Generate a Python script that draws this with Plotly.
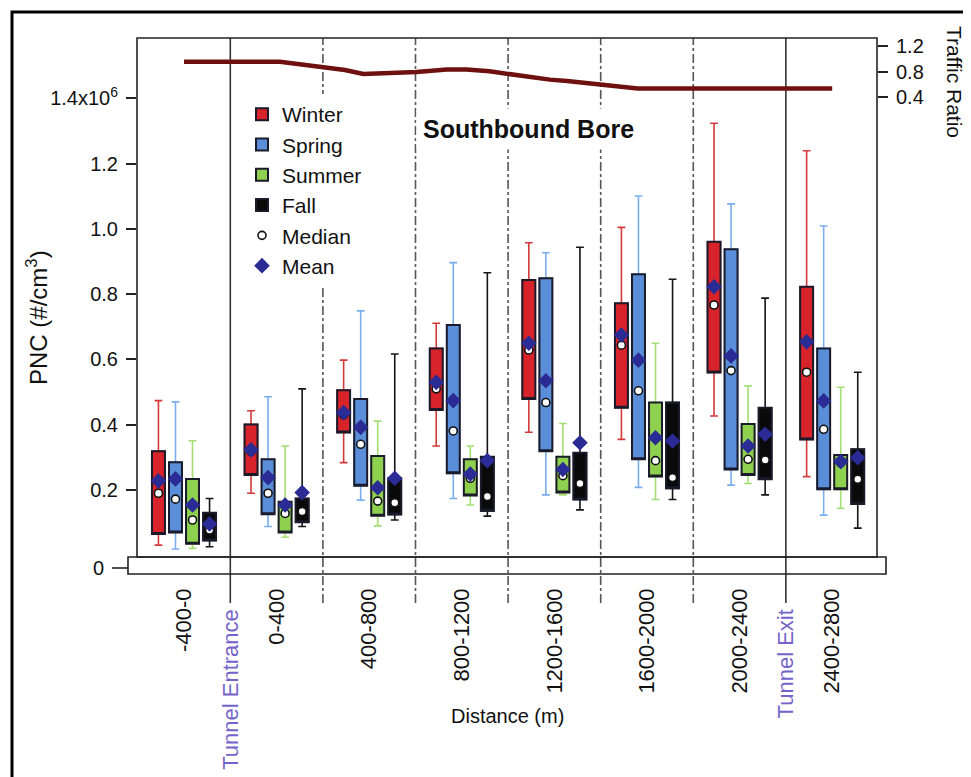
import plotly.graph_objects as go

# ---------------- data (PNC in 10^6 #/cm^3) ----------------
categories = ["-400-0", "0-400", "400-800", "800-1200", "1200-1600", "1600-2000", "2000-2400", "2400-2800"]
seasons = ["Winter", "Spring", "Summer", "Fall"]

winter_low  = [0.031, 0.190, 0.284, 0.335, 0.377, 0.355, 0.427, 0.241]
winter_q1   = [0.065, 0.246, 0.376, 0.445, 0.479, 0.452, 0.560, 0.355]
winter_med  = [0.190, 0.318, 0.430, 0.510, 0.629, 0.644, 0.767, 0.561]
winter_q3   = [0.319, 0.401, 0.506, 0.634, 0.844, 0.772, 0.961, 0.823]
winter_high = [0.474, 0.443, 0.598, 0.711, 0.958, 1.005, 1.324, 1.240]
winter_mean = [0.228, 0.323, 0.437, 0.530, 0.650, 0.675, 0.823, 0.654]

spring_low  = [0.019, 0.088, 0.169, 0.174, 0.185, 0.208, 0.215, 0.123]
spring_q1   = [0.070, 0.126, 0.213, 0.251, 0.319, 0.294, 0.263, 0.202]
spring_med  = [0.172, 0.190, 0.340, 0.381, 0.468, 0.504, 0.566, 0.386]
spring_q3   = [0.285, 0.294, 0.479, 0.706, 0.849, 0.861, 0.938, 0.634]
spring_high = [0.470, 0.486, 0.749, 0.897, 0.927, 1.101, 1.077, 1.009]
spring_mean = [0.234, 0.238, 0.392, 0.474, 0.535, 0.598, 0.611, 0.473]

summer_low  = [0.021, 0.055, 0.090, 0.154, 0.185, 0.171, 0.220, 0.144]
summer_q1   = [0.035, 0.070, 0.121, 0.183, 0.192, 0.241, 0.246, 0.202]
summer_med  = [0.108, 0.128, 0.166, 0.236, 0.244, 0.290, 0.294, 0.283]
summer_q3   = [0.234, 0.164, 0.304, 0.294, 0.302, 0.468, 0.402, 0.307]
summer_high = [0.351, 0.335, 0.411, 0.335, 0.404, 0.650, 0.519, 0.515]
summer_mean = [0.154, 0.154, 0.207, 0.249, 0.263, 0.360, 0.335, 0.287]

fall_low  = [0.026, 0.088, 0.108, 0.120, 0.139, 0.171, 0.185, 0.083]
fall_q1   = [0.045, 0.101, 0.125, 0.136, 0.171, 0.205, 0.233, 0.157]
fall_med  = [0.077, 0.134, 0.161, 0.180, 0.220, 0.238, 0.292, 0.233]
fall_q3   = [0.130, 0.174, 0.236, 0.302, 0.314, 0.468, 0.452, 0.325]
fall_high = [0.174, 0.510, 0.617, 0.866, 0.944, 0.846, 0.788, 0.561]
fall_mean = [0.096, 0.192, 0.236, 0.290, 0.345, 0.350, 0.371, 0.299]

# traffic ratio along the bore (distance in m)
traffic_dist  = [-200, 215, 300, 400, 495, 575, 660, 805, 935, 1020, 1120, 1195, 1295, 1380, 1455, 1600, 1685, 1760, 2600]
traffic_ratio = [0.96, 0.96, 0.92, 0.87, 0.83, 0.77, 0.78, 0.80, 0.84, 0.84, 0.81, 0.77, 0.73, 0.68, 0.66, 0.61, 0.57, 0.54, 0.54]

y_tick_vals = [0.2, 0.4, 0.6, 0.8, 1.0, 1.2, 1.4]
y_tick_text = ["0.2", "0.4", "0.6", "0.8", "1.0", "1.2", "1.4x10<sup>6</sup>"]
y2_tick_vals = [0.4, 0.8, 1.2]
y2_tick_text = ["0.4", "0.8", "1.2"]
tunnel_entrance_pos = 0.5
tunnel_exit_pos = 6.5
segment_bounds = [1.5, 2.5, 3.5, 4.5, 5.5]

# ---------------- styling ----------------
fill_colors = {"Winter": "#d8232a", "Spring": "#5b8ed8", "Summer": "#8ed14e", "Fall": "#0a0a0a"}
whisk_colors = {"Winter": "#d43a3a", "Spring": "#79aeee", "Summer": "#a3df72", "Fall": "#151515"}
offsets = {"Winter": -0.276, "Spring": -0.092, "Summer": 0.092, "Fall": 0.276}
stats = {
    "Winter": (winter_low, winter_q1, winter_med, winter_q3, winter_high, winter_mean),
    "Spring": (spring_low, spring_q1, spring_med, spring_q3, spring_high, spring_mean),
    "Summer": (summer_low, summer_q1, summer_med, summer_q3, summer_high, summer_mean),
    "Fall": (fall_low, fall_q1, fall_med, fall_q3, fall_high, fall_mean),
}
FONT = "Liberation Sans, Arial, sans-serif"
PURPLE = "#7563c9"
EDGE = "#1a1a2a"
BOXW = 0.14

PAGE_OFF = 8                      # browser body margin
L, R, T, B = 137, 877, 38, 574    # plot area in page pixels
W, H = 971 - PAGE_OFF, 777 - PAGE_OFF


def xp(px):
    return (px - L) / (R - L)


def yp(py):
    return (B - py) / (B - T)


fig = go.Figure()
idx = list(range(len(categories)))

# whiskers (coloured)
for s in seasons:
    lo, q1, md, q3, hi, mn = stats[s]
    xs = [i + offsets[s] for i in idx]
    fig.add_trace(go.Box(
        x=xs, q1=q1, median=md, q3=q3, lowerfence=lo, upperfence=hi,
        width=BOXW, whiskerwidth=0.6, boxpoints=False,
        line=dict(color=whisk_colors[s], width=1.6), fillcolor=fill_colors[s],
        showlegend=False, hoverinfo="skip", name=s + " whiskers",
    ))

# box bodies (filled, dark outline)
for s in seasons:
    lo, q1, md, q3, hi, mn = stats[s]
    xs = [i + offsets[s] for i in idx]
    fig.add_trace(go.Box(
        x=xs, q1=q1, median=q1, q3=q3, lowerfence=q1, upperfence=q3,
        width=BOXW, whiskerwidth=0, boxpoints=False,
        line=dict(color=EDGE, width=2), fillcolor=fill_colors[s],
        name=s, showlegend=True,
    ))

# medians and means
med_x, med_y, mean_x, mean_y = [], [], [], []
for s in seasons:
    lo, q1, md, q3, hi, mn = stats[s]
    for i in idx:
        med_x.append(i + offsets[s]); med_y.append(md[i])
        mean_x.append(i + offsets[s]); mean_y.append(mn[i])

fig.add_trace(go.Scatter(
    x=med_x, y=med_y, mode="markers", name="Median",
    marker=dict(symbol="circle", size=8, color="white", line=dict(color="#111", width=1.6)),
))
fig.add_trace(go.Scatter(
    x=mean_x, y=mean_y, mode="markers", name="Mean",
    marker=dict(symbol="diamond", size=12, color="#2b2b96", line=dict(width=0)),
))

# traffic ratio line
fig.add_trace(go.Scatter(
    x=[(d + 200) / 400 for d in traffic_dist], y=traffic_ratio, yaxis="y2",
    mode="lines", line=dict(color="#6e1010", width=4.5), showlegend=False, name="Traffic Ratio",
))

shapes = []
line_c = "#222222"
shapes.append(dict(type="rect", xref="paper", yref="paper", x0=xp(137), x1=xp(877), y0=yp(557), y1=yp(38),
                   line=dict(color=line_c, width=1.6), layer="above"))
shapes.append(dict(type="rect", xref="paper", yref="paper", x0=xp(128), x1=xp(886), y0=yp(574), y1=yp(557),
                   line=dict(color=line_c, width=1.6), layer="above"))
shapes.append(dict(type="line", xref="paper", yref="paper", x0=xp(112), x1=xp(128), y0=yp(568), y1=yp(568),
                   line=dict(color=line_c, width=1.6)))
shapes.append(dict(type="rect", xref="paper", yref="paper", x0=xp(12), x1=xp(969.5), y0=yp(800), y1=yp(12),
                   line=dict(color="black", width=3)))
for pos in [tunnel_entrance_pos, tunnel_exit_pos]:
    shapes.append(dict(type="line", xref="x", yref="paper", x0=pos, x1=pos, y0=yp(603), y1=yp(38),
                       line=dict(color="#333", width=1.6), layer="below"))
for pos in segment_bounds:
    shapes.append(dict(type="line", xref="x", yref="paper", x0=pos, x1=pos, y0=yp(603), y1=yp(38),
                       line=dict(color="#555", width=1.6, dash="dashdot"), layer="below"))


def ann(text, x, y, size, xref="paper", angle=0, color="#111", xanchor="center", yanchor="middle", **kw):
    return dict(text=text, xref=xref, yref="paper", x=x, y=y, textangle=angle, showarrow=False,
                xanchor=xanchor, yanchor=yanchor, font=dict(size=size, color=color, family=FONT), **kw)


annotations = [
    ann("<b>Southbound Bore</b>", xp(528), yp(129), 25, bgcolor="white", borderpad=6),
    ann("0", xp(106), yp(568), 20, xanchor="right"),
    ann("PNC (#/cm<sup>3</sup>)", xp(37), yp(318), 24, angle=-90),
    ann("Traffic Ratio", xp(955), yp(82), 21, angle=90),
    ann("Distance (m)", xp(507), yp(716), 20),
    ann("Tunnel Entrance", tunnel_entrance_pos, yp(607), 22, xref="x", angle=-90, color=PURPLE, yanchor="top"),
    ann("Tunnel Exit", tunnel_exit_pos, yp(607), 22, xref="x", angle=-90, color=PURPLE, yanchor="top"),
]

fig.update_layout(
    width=W, height=H, autosize=False,
    margin=dict(l=L - PAGE_OFF, r=971 - R, t=T - PAGE_OFF, b=777 - B),
    paper_bgcolor="white", plot_bgcolor="white",
    font=dict(family=FONT, color="#111"),
    boxmode="overlay",
    shapes=shapes, annotations=annotations,
    legend=dict(x=xp(242), y=yp(94), xanchor="left", yanchor="top", bgcolor="white",
                font=dict(size=21, family=FONT, color="#111"), itemwidth=30, tracegroupgap=0),
    xaxis=dict(range=[-0.5076, 7.484], tickvals=idx, ticktext=categories, tickangle=-90,
               ticks="", showline=False, showgrid=False, zeroline=False,
               tickfont=dict(size=22, family=FONT, color="#111"), ticklabelstandoff=9),
    yaxis=dict(range=[-0.0575, 1.5854], tickvals=y_tick_vals, ticktext=y_tick_text,
               ticks="outside", ticklen=10, tickwidth=1.6, tickcolor=line_c,
               showline=False, showgrid=False, zeroline=False, ticklabelstandoff=4,
               tickfont=dict(size=20, family=FONT, color="#111")),
    yaxis2=dict(overlaying="y", side="right", range=[-7.075, 1.333], tickvals=y2_tick_vals,
                ticktext=y2_tick_text, ticks="outside", ticklen=10, tickwidth=1.6, tickcolor=line_c,
                showline=False, showgrid=False, zeroline=False, ticklabelstandoff=4,
                tickfont=dict(size=20, family=FONT, color="#111")),
)

fig.write_html("out.html")
